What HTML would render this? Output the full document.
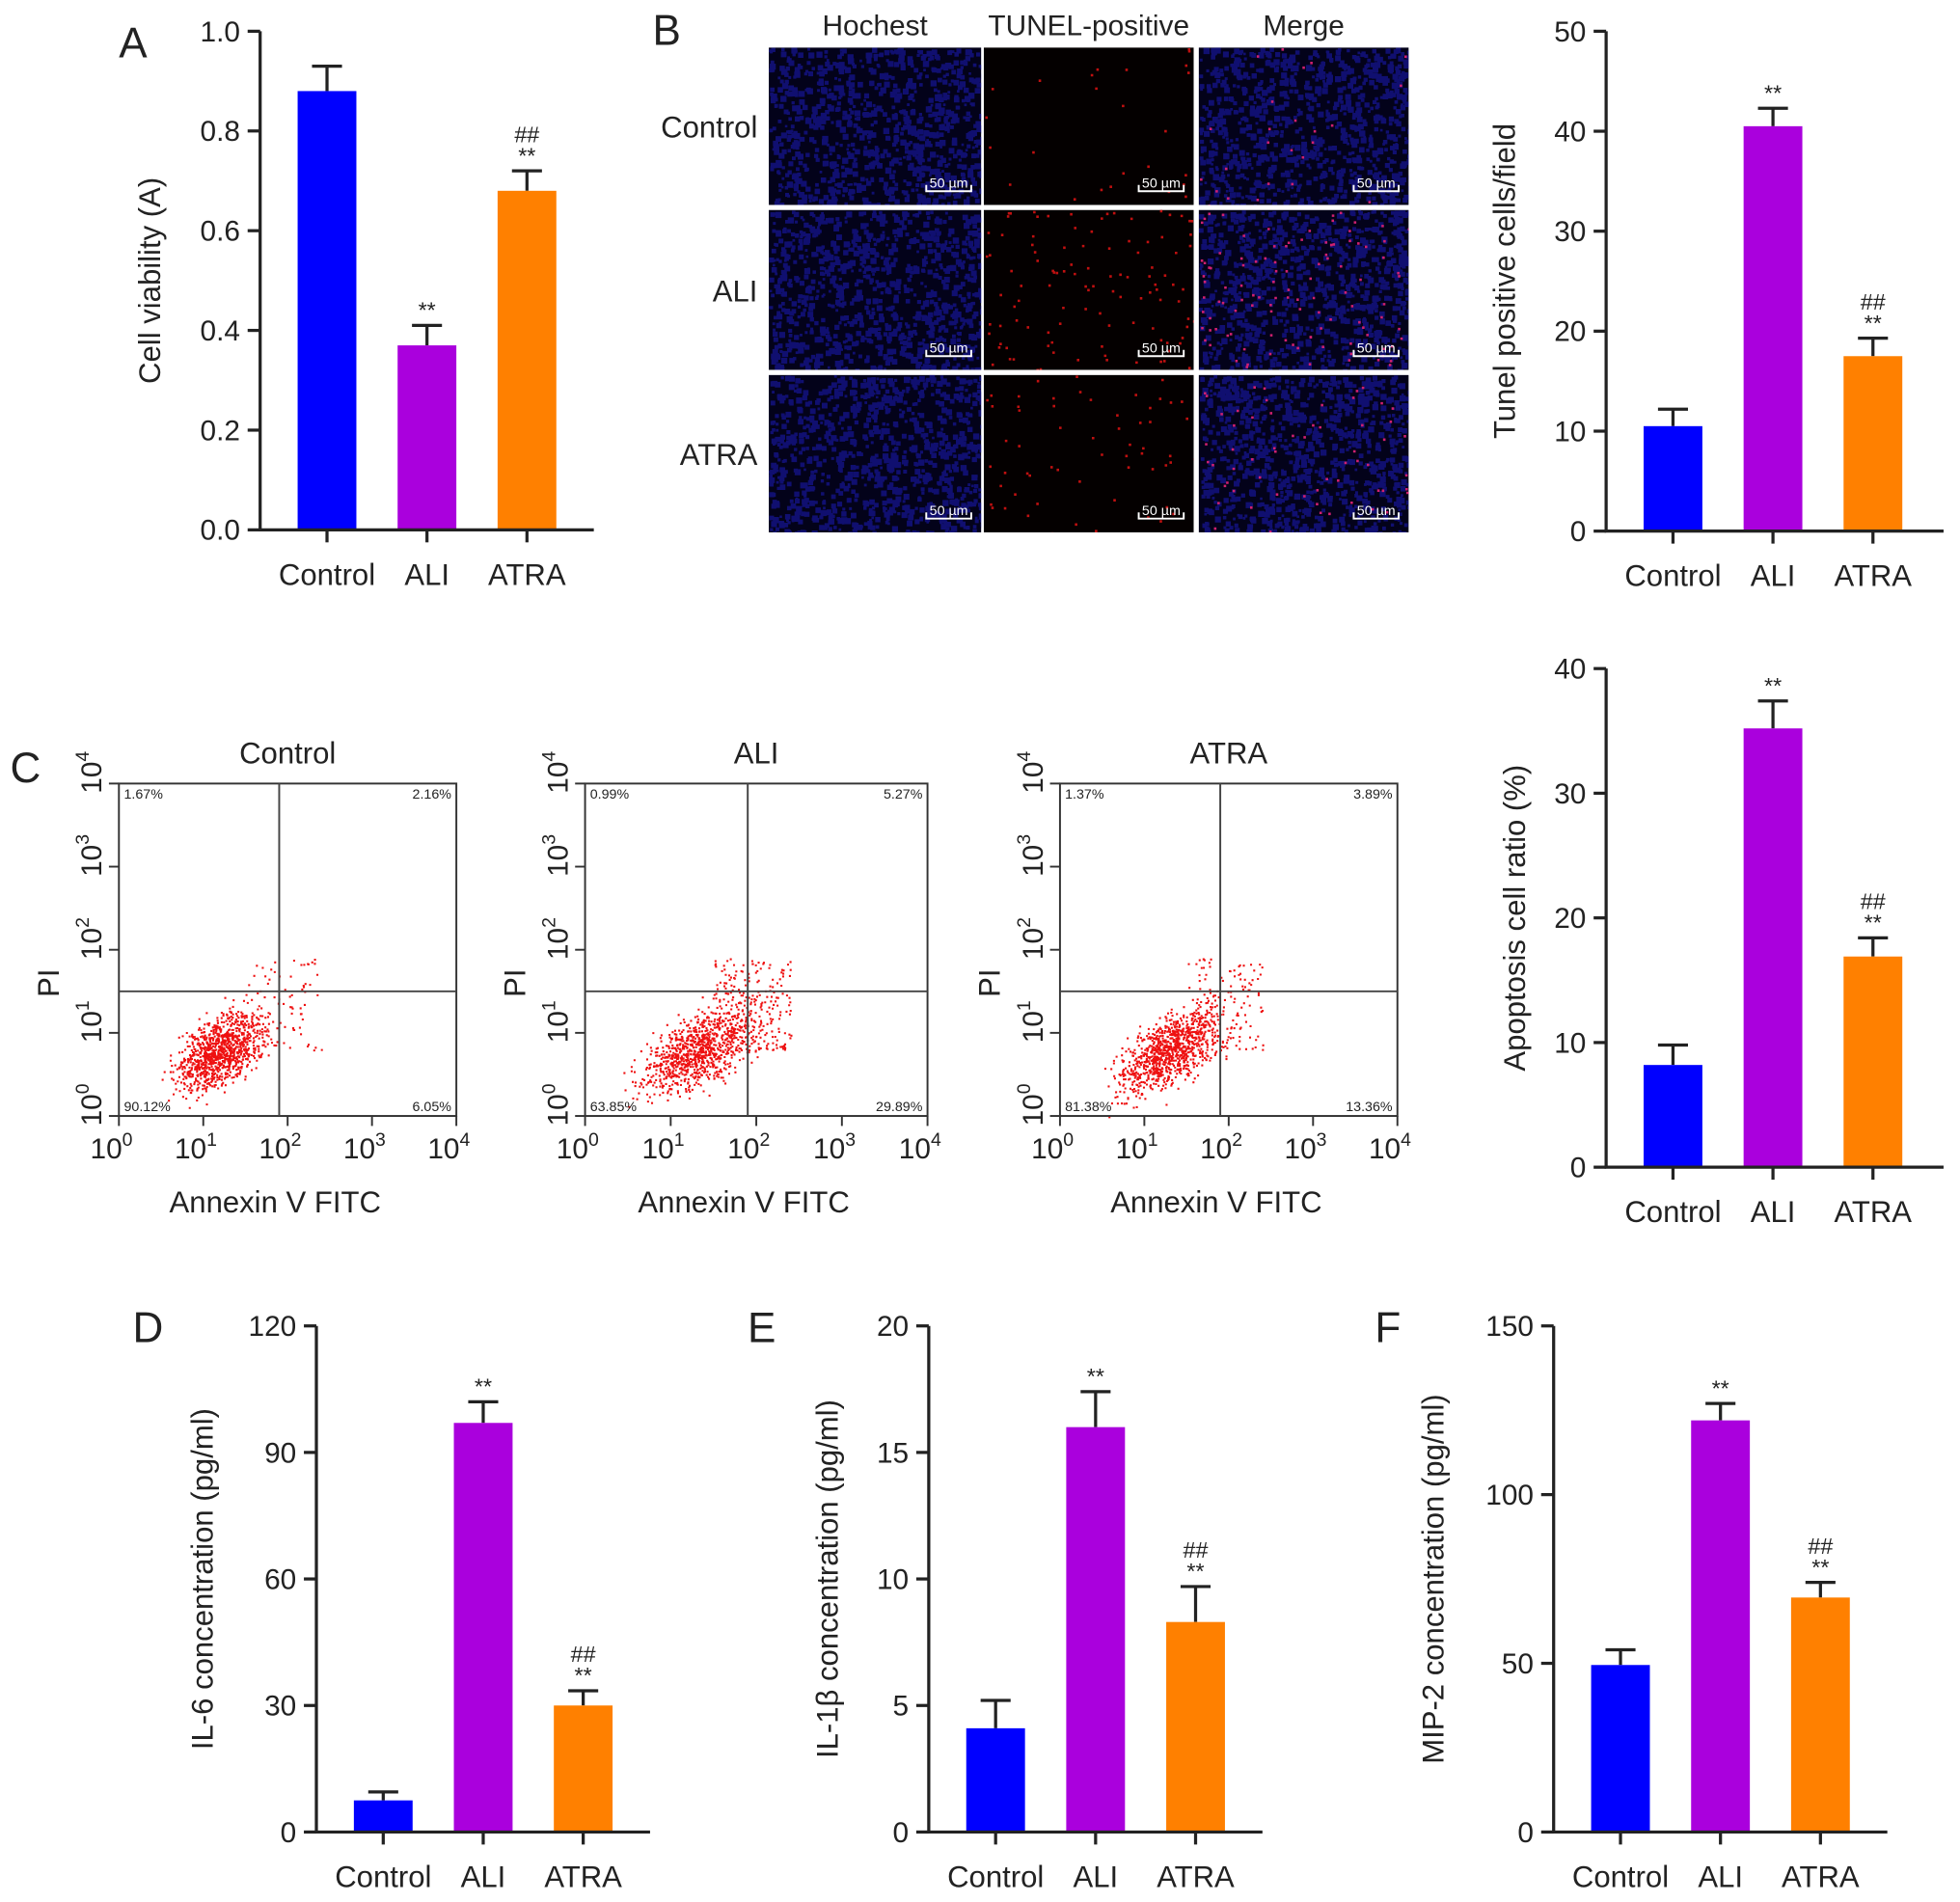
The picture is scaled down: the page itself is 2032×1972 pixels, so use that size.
<!DOCTYPE html>
<html><head><meta charset="utf-8">
<style>
html,body{margin:0;padding:0;background:#fff;}
svg{display:block;}
text{font-family:"Liberation Sans",sans-serif;fill:#222;}
</style></head>
<body>
<svg id="fig" xmlns="http://www.w3.org/2000/svg" width="2032" height="1972" viewBox="0 0 1568 1522">
<defs id="defs"></defs>
<g id="root"></g>
</svg>
<script>
// ---- data ----
const categories = ["Control","ALI","ATRA"];
const colors = ["#0000ff","#aa00dd","#ff8000"];
const aValues = [0.88,0.37,0.68];
const aErrors = [0.05,0.04,0.04];
const aTicks = ["0.0","0.2","0.4","0.6","0.8","1.0"];
const bValues = [10.5,40.5,17.5];
const bErrors = [1.7,1.8,1.8];
const bTicks = ["0","10","20","30","40","50"];
const cValues = [8.2,35.2,16.9];
const cErrors = [1.6,2.2,1.5];
const cTicks = ["0","10","20","30","40"];
const dValues = [7.5,97,30];
const dErrors = [2,5,3.5];
const dTicks = ["0","30","60","90","120"];
const eValues = [4.1,16,8.3];
const eErrors = [1.1,1.4,1.4];
const eTicks = ["0","5","10","15","20"];
const fValues = [49.5,122,69.5];
const fErrors = [4.5,5,4.5];
const fTicks = ["0","50","100","150"];
const aMarks = ["","**","##\n**"];
const bMarks = ["","**","##\n**"];
const flowQuad = [["1.67%","2.16%","90.12%","6.05%"],["0.99%","5.27%","63.85%","29.89%"],["1.37%","3.89%","81.38%","13.36%"]];
const flowNames = ["Control","ALI","ATRA"];

const NS="http://www.w3.org/2000/svg";
const root=document.getElementById('root');
const defs=document.getElementById('defs');
function el(tag,attrs,parent,txt){const e=document.createElementNS(NS,tag);for(const k in attrs)e.setAttribute(k,attrs[k]);if(txt!==undefined)e.textContent=txt;(parent||root).appendChild(e);return e;}

function barChart(name,ax,y0,y1,yMax,xEnd,values,errors,ticks,marks,ylabel,ylx,panel,px,py){
  const g=el('g',{});
  
  
  const ys=v=>y0-(v/yMax)*(y0-y1);
  const bw=47, first=ax+30, step=80;
  values.forEach((v,i)=>{
    const x=first+i*step, top=ys(v), et=ys(v+errors[i]);
    const ln=el('line',{x1:x+bw/2,x2:x+bw/2,y1:top,y2:et,stroke:'#222','stroke-width':2.5},g);
    
    
    const cap=el('line',{x1:x+bw/2-12,x2:x+bw/2+12,y1:et,y2:et,stroke:'#222','stroke-width':2.5},g);
    
    
    const r=el('rect',{x:x,y:top,width:bw,height:y0-top,fill:colors[i]},g);
    
    
    const m=marks[i].split('\n');
    m.reverse().forEach((s,j)=>{const t=el('text',{x:x+bw/2,y:et-6-j*17,'text-anchor':'middle','font-size':18},g,s);
      
      });
    const tk=el('line',{x1:x+bw/2,x2:x+bw/2,y1:y0,y2:y0+10,stroke:'#222','stroke-width':2.5},g);
    
    
    const lb=el('text',{x:x+bw/2,y:y0+44,'text-anchor':'middle','font-size':24},g,categories[i]);
    
    
  });
  const axl=el('path',{d:`M${ax},${y1} L${ax},${y0} L${xEnd},${y0}`,fill:'none',stroke:'#222','stroke-width':2.5},g);
  
  
  ticks.forEach((t,i)=>{const y=y0-i*(y0-y1)/(ticks.length-1);
    const tl=el('line',{x1:ax-10,x2:ax,y1:y,y2:y,stroke:'#222','stroke-width':2.5},g);
    
    
    const tt=el('text',{x:ax-16,y:y+8,'text-anchor':'end','font-size':23},g,t);
    
    });
  const yl=el('text',{x:0,y:0,transform:`translate(${ylx},${(y0+y1)/2}) rotate(-90)`,'text-anchor':'middle','font-size':24},g,ylabel);
  
  
  if(panel){const p=el('text',{x:px,y:py,'font-size':34},g,panel);
    
    }
}
barChart('chart-cell-viability',208,424,25,1.0,475,aValues,aErrors,aTicks,aMarks,'Cell viability (A)',128,'A',95,46);
barChart('chart-tunel',1285,425,25,50,1555,bValues,bErrors,bTicks,bMarks,'Tunel positive cells/field',1212,null);
barChart('chart-apoptosis',1285,934,535,40,1555,cValues,cErrors,cTicks,bMarks,'Apoptosis cell ratio (%)',1220,null);
barChart('chart-il6',253,1466,1061,120,520,dValues,dErrors,dTicks,bMarks,'IL-6 concentration (pg/ml)',170,'D',106,1074);
barChart('chart-il1b',743,1466,1061,20,1010,eValues,eErrors,eTicks,bMarks,'IL-1β concentration (pg/ml)',670,'E',598,1074);
barChart('chart-mip2',1243,1466,1061,150,1510,fValues,fErrors,fTicks,bMarks,'MIP-2 concentration (pg/ml)',1155,'F',1100,1074);

// ---- deterministic PRNG for image texture ----
let seed=12345;function rnd(){seed=(seed*1103515245+12345)&0x7fffffff;return seed/0x7fffffff;}
function gauss(){return (rnd()+rnd()+rnd()+rnd()-2)/0.58;}

// ---- microscopy grid ----
const pb=el('text',{x:522,y:36,'font-size':34},root,'B');


const colX=[615,787,959], colW=[170,168,168], rowY=[38,168,300], rowH=[126,128,126];
const heads=["Hochest","TUNEL-positive","Merge"], rowNames=["Control","ALI","ATRA"], redCount=[25,110,60];
heads.forEach((h,i)=>{const t=el('text',{x:colX[i]+colW[i]/2,y:28,'text-anchor':'middle','font-size':23},root,h);
  
  });
rowNames.forEach((r,j)=>{const t=el('text',{x:606,y:rowY[j]+rowH[j]/2+9,'text-anchor':'end','font-size':24},root,r);
  
  });
for(let j=0;j<3;j++)for(let i=0;i<3;i++){
  const x=colX[i],y=rowY[j],w=colW[i],h=rowH[j];
  const cid='clip'+j+i;
  const cp=el('clipPath',{id:cid},defs);
  el('rect',{x:x,y:y,width:w,height:h},cp);
  const g=el('g',{'clip-path':`url(#${cid})`});
  
  
  el('rect',{x:x,y:y,width:w,height:h,fill:i==1?'#040000':'#03021a'},g);
  let d='';
  if(i!=1){for(let k=0;k<900;k++){const cx=x+rnd()*w,cy=y+rnd()*h,s=2+rnd()*3;d+=`M${cx.toFixed(1)},${cy.toFixed(1)}h${s.toFixed(1)}v${s.toFixed(1)}h-${s.toFixed(1)}z`;}
    el('path',{d:d,fill:'#1c1cb8',opacity:0.55},g);}
  if(i!=0){d='';for(let k=0;k<redCount[j];k++){const cx=x+rnd()*w,cy=y+rnd()*h;d+=`M${cx.toFixed(1)},${cy.toFixed(1)}h2v2h-2z`;}
    el('path',{d:d,fill:i==2?'#d02070':'#c01010'},g);}
  el('path',{d:`M${x+w-44},${y+h-16} v5 h36 v-5`,fill:'none',stroke:'#fff','stroke-width':1.5},g);
  el('text',{x:x+w-26,y:y+h-14,'text-anchor':'middle','font-size':11,style:'fill:#fff'},g,'50 µm');
}

// ---- flow plots ----
const pc=el('text',{x:8,y:626,'font-size':34},root,'C');


const fx=[95,468,848], fw=[270,274,270], fyTop=627, fyBot=893;
const clusterX=[1.2,1.3,1.3], clusterSpread=[0.25,0.32,0.28], tail=[0.06,0.2,0.12];
for(let p=0;p<3;p++){
  const g=el('g',{});
  
  
  const x0=fx[p],w=fw[p],dx=w/4,dy=(fyBot-fyTop)/4;
  const lx=v=>x0+v*dx, ly=v=>fyBot-v*dy;
  let d='';
  for(let k=0;k<3800;k++){
    let a=clusterX[p]+gauss()*clusterSpread[p], b=0.8+gauss()*0.2+(a-clusterX[p])*0.45;
    if(rnd()<tail[p]){a=1.5+rnd()*0.9;b=0.8+rnd()*1.1;}
    const px=lx(a),py=ly(b);d+=`M${px.toFixed(1)},${py.toFixed(1)}h1.6v1.6h-1.6z`;}
  el('path',{d:d,fill:'#ee1111'},g);
  el('rect',{x:x0,y:fyTop,width:w,height:fyBot-fyTop,fill:'none',stroke:'#333','stroke-width':1.5},g);
  el('line',{x1:lx(1.9),x2:lx(1.9),y1:fyTop,y2:fyBot,stroke:'#444','stroke-width':1.5},g);
  el('line',{x1:x0,x2:x0+w,y1:ly(1.5),y2:ly(1.5),stroke:'#444','stroke-width':1.5},g);
  const q=flowQuad[p];
  el('text',{x:x0+4,y:fyTop+12,'font-size':11},g,q[0]);
  el('text',{x:x0+w-4,y:fyTop+12,'text-anchor':'end','font-size':11},g,q[1]);
  el('text',{x:x0+4,y:fyBot-4,'font-size':11},g,q[2]);
  el('text',{x:x0+w-4,y:fyBot-4,'text-anchor':'end','font-size':11},g,q[3]);
  for(let k=0;k<=4;k++){
    el('line',{x1:lx(k),x2:lx(k),y1:fyBot,y2:fyBot+8,stroke:'#333','stroke-width':1.5},g);
    const t=el('text',{x:lx(k)-6,y:fyBot+34,'text-anchor':'middle','font-size':23},g,'10');
    el('tspan',{dy:-10,'font-size':15},t,String(k));
    el('line',{x1:x0-8,x2:x0,y1:ly(k),y2:ly(k),stroke:'#333','stroke-width':1.5},g);
    const t2=el('text',{x:0,y:0,transform:`translate(${x0-14},${ly(k)+8}) rotate(-90)`,'text-anchor':'start','font-size':23},g,'10');
    el('tspan',{dy:-10,'font-size':15},t2,String(k));
  }
  const tt=el('text',{x:x0+w/2,y:fyTop-16,'text-anchor':'middle','font-size':24},g,flowNames[p]);
  
  
  const xl=el('text',{x:x0+w/2-10,y:970,'text-anchor':'middle','font-size':24},g,'Annexin V FITC');
  
  
  const yl=el('text',{x:0,y:0,transform:`translate(${x0-48},${ly(1.6)}) rotate(-90)`,'text-anchor':'middle','font-size':24},g,'PI');
  
  
}
</script>
</body></html>
